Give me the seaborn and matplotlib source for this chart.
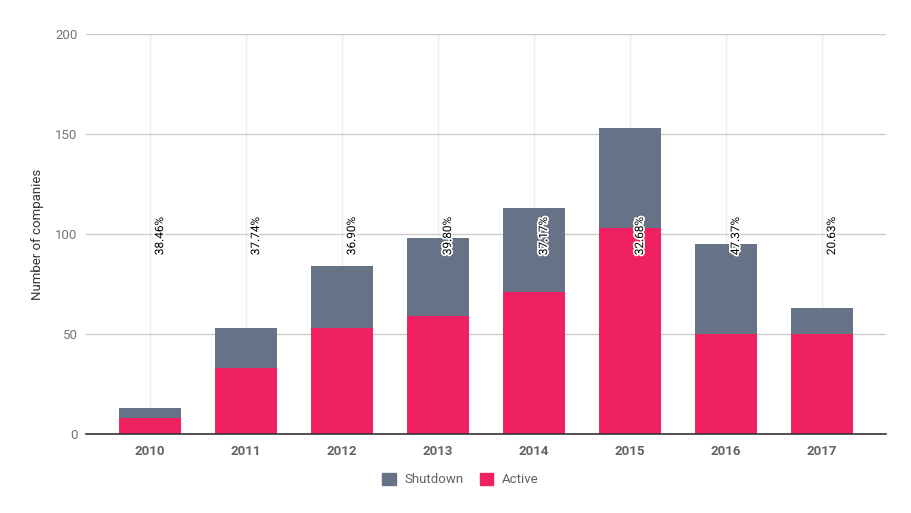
import numpy as np
import pandas as pd
import matplotlib
matplotlib.use('Agg')
from matplotlib import pyplot as plt
from matplotlib import patheffects as pe
from matplotlib.patches import Patch
import seaborn as sns


years = ['2010', '2011', '2012', '2013', '2014', '2015', '2016', '2017']
active = [8, 33, 53, 59, 71, 103, 50, 50]
shutdown = [5, 20, 31, 39, 42, 50, 45, 13]

colors = {'shutdown': '#667386', 'active': '#EF2160'}


if __name__ == '__main__':

    sns.set_style('white')
    plt.rcParams['font.family'] = ['Roboto', 'DejaVu Sans']

    df = pd.DataFrame({'year': years, 'active': active, 'shutdown': shutdown})
    df['total'] = df['active'] + df['shutdown']
    df['pct'] = df['shutdown'] / df['total'] * 100

    fig = plt.figure(figsize=(9.12, 5.13), dpi=100)
    ax = fig.add_axes([86 / 912, 79 / 513, 800 / 912, 400 / 513])

    # stacked: total in grey behind, active on top
    sns.barplot(data=df, x='year', y='total', color=colors['shutdown'],
                width=0.65, saturation=1, linewidth=0, ax=ax, zorder=3)
    sns.barplot(data=df, x='year', y='active', color=colors['active'],
                width=0.65, saturation=1, linewidth=0, ax=ax, zorder=3)

    for i, p in enumerate(df['pct']):
        ax.text(i + 0.1, 99, '{:.2f}%'.format(p), rotation=90,
                ha='center', va='center', fontsize=8.5, color='black',
                zorder=5,
                path_effects=[pe.withStroke(linewidth=2.5, foreground='white')])

    ax.set_ylim(0, 200)
    ax.set_xlim(-0.667, 7.667)
    ax.set_yticks([0, 50, 100, 150, 200])
    ax.grid(axis='y', color='#cccccc', linewidth=1, zorder=0)
    ax.grid(axis='x', color='#ebebeb', linewidth=1, zorder=0)
    ax.set_axisbelow(True)

    for s in ['top', 'right', 'left']:
        ax.spines[s].set_visible(False)
    ax.spines['bottom'].set_color('#333333')
    ax.spines['bottom'].set_linewidth(1.2)
    ax.spines['bottom'].set_zorder(4)

    ax.tick_params(axis='y', length=0, pad=6, labelsize=9.5,
                   labelcolor='#757575')
    ax.tick_params(axis='x', length=0, pad=8, labelsize=9.5,
                   labelcolor='#5f6368')
    for lbl in ax.get_xticklabels():
        lbl.set_fontweight('bold')

    ax.set_xlabel('')
    ax.set_ylabel('Number of companies', fontsize=9.5, color='#333333',
                  labelpad=8)

    handles = [Patch(color=colors['shutdown'], label='Shutdown'),
               Patch(color=colors['active'], label='Active')]
    fig.legend(handles=handles, loc='center', bbox_to_anchor=(0.505, 0.065),
               ncol=2, frameon=False, fontsize=9.5, handlelength=1.0,
               handleheight=1.0, columnspacing=1.2, handletextpad=0.7,
               labelcolor='#5f6368')

    plt.savefig('out.png', dpi=100)
